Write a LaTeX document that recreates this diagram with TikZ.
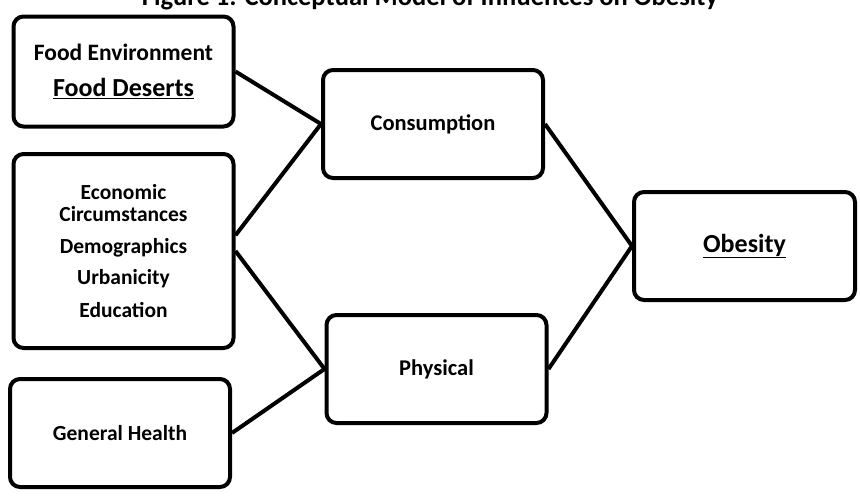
\documentclass[tikz,border=0pt]{standalone}
\usepackage{fontspec}
\setmainfont{Carlito}

\tikzset{
	box/.style={draw, line width=4pt, rounded corners=10pt, align=center,
		minimum width=220pt, minimum height=108pt, inner sep=0pt,
		font=\bfseries\fontsize{21.5}{22}\selectfont},
	link/.style={line width=4pt},
}

\begin{document}
\begin{tikzpicture}[x=1pt,y=-1pt]
	\useasboundingbox (0,0) rectangle (860,501);
	\clip (0,0) rectangle (860,501);
	\node[anchor=base, font=\bfseries\fontsize{26.5}{28}\selectfont] (title) at (430,5) {Figure 1: Conceptual Model of Influences on Obesity};
	
	\node[box, minimum height=110pt] (food) at (123.5,71.5) {{\fontsize{23.5}{24}\selectfont Food Environment}\\[14pt]{\fontsize{26}{26}\selectfont\underline{Food Deserts}}};
	\node[box, minimum height=194pt] (econ) at (123.5,251) {Economic\\Circumstances\\[10pt]Demographics\\[9pt]Urbanicity\\[11pt]Education};
	\node[box] (health) at (120,433) {General Health};
	
	\node[box, font=\bfseries\fontsize{22.5}{24}\selectfont] (cons) at (433,124) {Consumption};
	\node[box, font=\bfseries\fontsize{22.5}{24}\selectfont] (phys) at (436.5,369) {Physical};
	
	\node[box, minimum width=221pt, font=\bfseries\fontsize{26}{26}\selectfont] (obes) at (744.5,246) {\underline{Obesity}};
	
	\draw[link] (food.east) -- (cons.west);
	\draw[link] (econ.8) -- (cons.west);
	\draw[link] (econ.east) -- (phys.west);
	\draw[link] (health.east) -- (phys.west);
	\draw[link] (cons.east) -- (obes.west);
	\draw[link] (phys.east) -- (obes.west);
\end{tikzpicture}
\end{document}
